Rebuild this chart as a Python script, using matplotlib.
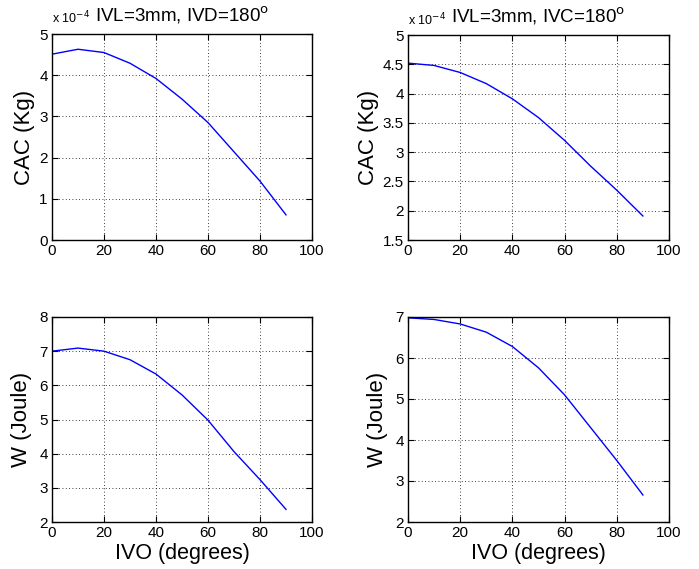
import numpy as np
import matplotlib.pyplot as plt

plt.rcParams['font.family'] = ['Liberation Sans', 'DejaVu Sans']

ivo = [0, 10, 20, 30, 40, 50, 60, 70, 80, 90]

# CAC (Kg), IVD = 180
cac_ivd = [4.51e-4, 4.63e-4, 4.55e-4, 4.29e-4, 3.92e-4, 3.42e-4, 2.85e-4, 2.14e-4, 1.43e-4, 0.61e-4]
# CAC (Kg), IVC = 180
cac_ivc = [4.52e-4, 4.48e-4, 4.36e-4, 4.17e-4, 3.91e-4, 3.59e-4, 3.20e-4, 2.76e-4, 2.35e-4, 1.91e-4]
# W (Joule), IVD = 180
w_ivd = [7.00, 7.09, 7.00, 6.75, 6.33, 5.72, 4.98, 4.06, 3.24, 2.37]
# W (Joule), IVC = 180
w_ivc = [6.98, 6.94, 6.83, 6.63, 6.28, 5.76, 5.10, 4.30, 3.50, 2.66]

titulos = ['IVL=3mm, IVD=180$^\\mathrm{o}$', 'IVL=3mm, IVC=180$^\\mathrm{o}$']

W, H = 699, 569
fig = plt.figure(figsize=(W / 100, H / 100), dpi=100)


def ejes(x0, y0, x1, y1):
    # coordenadas en pixeles (origen arriba a la izquierda)
    return fig.add_axes([x0 / W, 1 - y1 / H, (x1 - x0) / W, (y1 - y0) / H])


def estilo(ax):
    ax.set_xlim(0, 100)
    ax.set_xticks([0, 20, 40, 60, 80, 100])
    ax.grid(True, linestyle=(0, (1, 3)), color='black', linewidth=0.6)
    ax.tick_params(direction='in', top=True, right=True, labelsize=11, length=4, pad=3)
    for s in ax.spines.values():
        s.set_linewidth(1.0)


ax1 = ejes(52, 34, 312, 240)
ax1.plot(ivo, np.array(cac_ivd) / 1e-4, color='blue', linewidth=1)
ax1.set_ylim(0, 5)
ax1.set_yticks([0, 1, 2, 3, 4, 5])
estilo(ax1)
ax1.set_ylabel('CAC (Kg)', fontsize=16, labelpad=3)
ax1.set_title(titulos[0], fontsize=13.5, pad=9, x=0.5)
ax1.text(0, 1.035, 'x 10$^{-4}$', transform=ax1.transAxes, fontsize=9, va='bottom')

ax2 = ejes(408, 35, 669, 240)
ax2.plot(ivo, np.array(cac_ivc) / 1e-4, color='blue', linewidth=1)
ax2.set_ylim(1.5, 5)
ax2.set_yticks([1.5, 2, 2.5, 3, 3.5, 4, 4.5, 5])
ax2.set_yticklabels(['1.5', '2', '2.5', '3', '3.5', '4', '4.5', '5'])
estilo(ax2)
ax2.set_ylabel('CAC (Kg)', fontsize=16, labelpad=3)
ax2.set_title(titulos[1], fontsize=13.5, pad=9, x=0.5)
ax2.text(0, 1.035, 'x 10$^{-4}$', transform=ax2.transAxes, fontsize=9, va='bottom')

ax3 = ejes(52, 317, 312, 522)
ax3.plot(ivo, w_ivd, color='blue', linewidth=1)
ax3.set_ylim(2, 8)
ax3.set_yticks([2, 3, 4, 5, 6, 7, 8])
estilo(ax3)
ax3.set_ylabel('W (Joule)', fontsize=16, labelpad=5)
ax3.set_xlabel('IVO (degrees)', fontsize=15.5, labelpad=2)

ax4 = ejes(408, 317, 669, 522)
ax4.plot(ivo, w_ivc, color='blue', linewidth=1)
ax4.set_ylim(2, 7)
ax4.set_yticks([2, 3, 4, 5, 6, 7])
estilo(ax4)
ax4.set_ylabel('W (Joule)', fontsize=16, labelpad=5)
ax4.set_xlabel('IVO (degrees)', fontsize=15.5, labelpad=2)

fig.savefig('out.png', dpi=100)
